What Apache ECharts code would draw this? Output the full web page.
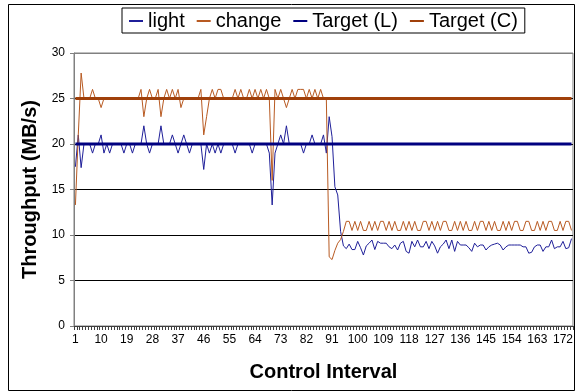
<!DOCTYPE html>
<html>
<head>
<meta charset="utf-8">
<script src="https://cdn.jsdelivr.net/npm/echarts@6/dist/echarts.min.js"></script>
<style>
  html, body { margin: 0; padding: 0; background: #fff; }
  #main { width: 576px; height: 392px; }
</style>
</head>
<body>
<div id="main"></div>
<script>
// control intervals 1..175
var intervals = Array.from({ length: 175 }, function (_, i) { return String(i + 1); });

var light = [
  17.5, 21, 17.4, 20, 20, 20, 19, 20, 20, 21,
  19, 20, 19, 20, 20, 20, 20, 19, 20, 20,
  19, 20, 20, 20, 22, 20, 19, 20, 20, 20,
  22, 20, 20, 20, 21, 20, 19, 20, 21, 20,
  19, 20, 20, 20, 20, 17.2, 20, 19, 20, 19,
  20, 19, 20, 20, 20, 20, 19, 20, 20, 20,
  20, 20, 19, 20, 20, 20, 20, 20, 19, 13.3,
  19, 20, 21, 20, 22, 20, 20, 20, 20, 20,
  19, 20, 20, 21, 20, 20, 20, 21, 19, 23,
  20.8, 15.3, 14.4, 10.4, 8.8,
  8.5, 9.0, 8.4, 8.4, 9.3, 8.6, 7.8, 8.8, 9.1, 9.45,
  8.4, 9.3, 9.1, 9.1, 9.1, 8.7, 8.5, 8.9, 8.35, 9.1,
  9.3, 8.2, 8.0, 9.3, 8.7, 9.45, 8.7, 8.7, 9.3, 8.5,
  9.3, 8.8, 8.0, 8.7, 9.0, 9.45, 8.5, 9.45, 8.2, 9.3,
  8.9, 8.9, 8.9, 8.6, 8.2, 9.1, 8.7, 8.9, 8.9, 8.35,
  8.7, 8.9, 9.0, 9.1, 8.9, 8.35, 8.7, 8.9, 8.9, 8.9,
  8.9, 8.9, 8.7, 8.7, 8.0, 8.1, 8.7, 8.9, 8.9, 8.2,
  8.7, 8.7, 9.45, 8.5, 8.7, 8.7, 9.3, 8.5, 8.6, 9.6
];

var change = [
  13.3, 21, 27.8, 25, 25, 25, 26, 25, 25, 24,
  25, 25, 25, 25, 25, 25, 25, 25, 25, 25,
  25, 25, 25, 26, 23, 25, 26, 25, 25, 26,
  23, 25, 26, 25, 26, 25, 26, 24, 25, 25,
  25, 25, 25, 25, 26, 21, 23, 25, 26, 25,
  26, 26, 25, 25, 25, 25, 26, 25, 26, 25,
  25, 26, 25, 26, 25, 26, 25, 26, 25, 16,
  26, 25, 26, 25, 24, 25, 26, 25, 26, 26,
  26, 25, 26, 25, 26, 25, 26, 25, 25, 7.6,
  7.3, 8.3, 9.1, 9.5, 10.4, 11.5,
  11.5, 10.5, 11.5, 10.5, 11.5, 10.5, 10.5, 11.5, 10.5, 11.5,
  10.5, 11.5, 11.5, 10.5, 11.5, 10.5, 11.5, 10.5, 10.5, 11.5,
  10.5, 11.5, 10.5, 11.5, 10.5, 10.5, 11.5, 11.5, 10.5, 11.5,
  10.5, 11.5, 10.5, 11.5, 11.5, 10.5, 10.5, 11.5, 10.5, 11.5,
  10.5, 11.5, 10.5, 10.5, 11.5, 10.5, 11.5, 11.5, 10.5, 11.5,
  10.5, 11.5, 10.5, 10.5, 11.5, 10.5, 11.5, 10.5, 11.5, 11.5,
  10.5, 10.5, 11.5, 11.5, 10.5, 10.5, 11.5, 10.5, 11.5, 10.5,
  11.5, 11.5, 10.5, 10.5, 11.5, 10.5, 11.5, 11.5, 10.5
];

var targetLight = 20;
var targetChange = 25;
var yTicks = [0, 5, 10, 15, 20, 25, 30];

var myChart = echarts.init(document.getElementById('main'), null, { renderer: 'canvas' });

var font = 'Liberation Sans, Arial, sans-serif';

var option = {
    animation: false,
    backgroundColor: '#fff',
    textStyle: { fontFamily: font },
    graphic: [{
        type: 'rect',
        shape: { x: 8.5, y: 4.5, width: 566, height: 386 },
        style: { fill: 'none', stroke: '#000', lineWidth: 1 },
        z: 100
    }],
    legend: {
        left: 122,
        top: 8,
        padding: [3, 7, 2, 6],
        itemWidth: 14,
        itemHeight: 10,
        itemGap: 11,
        borderColor: '#000',
        borderWidth: 1,
        borderRadius: 0,
        backgroundColor: '#fff',
        itemStyle: { opacity: 0 },
        textStyle: { fontFamily: font, fontSize: 20, color: '#000' },
        data: ['light', 'change', 'Target (L)', 'Target (C)']
    },
    grid: {
        left: 74,
        right: 3,
        top: 53,
        bottom: 66,
        show: true,
        borderColor: '#808080',
        borderWidth: 1,
        backgroundColor: '#fff'
    },
    xAxis: {
        type: 'category',
        data: intervals,
        boundaryGap: true,
        name: 'Control Interval',
        nameLocation: 'middle',
        nameGap: 36,
        nameTextStyle: { fontFamily: font, fontSize: 20, fontWeight: 'bold', color: '#000' },
        axisLine: { lineStyle: { color: '#404040', width: 1 } },
        axisTick: { show: true, interval: 0, length: 4, lineStyle: { color: '#404040' } },
        axisLabel: { interval: 8, margin: 8, fontSize: 12, color: '#000', fontFamily: font },
        splitLine: { show: false }
    },
    yAxis: {
        type: 'value',
        min: yTicks[0],
        max: yTicks[yTicks.length - 1],
        interval: 5,
        name: 'Throughput (MB/s)',
        nameLocation: 'middle',
        nameGap: 33,
        nameTextStyle: { fontFamily: font, fontSize: 20, fontWeight: 'bold', color: '#000' },
        axisLine: { show: true, lineStyle: { color: '#808080', width: 1 } },
        axisTick: { show: true, length: 4, lineStyle: { color: '#808080' } },
        axisLabel: { margin: 9, fontSize: 12, color: '#000', fontFamily: font },
        splitLine: {
            show: true,
            lineStyle: { color: ['#000', '#000', '#000', '#000', '#000', '#000', '#808080'], width: 1 }
        }
    },
    series: [
        {
            name: 'light',
            type: 'line',
            data: light,
            symbol: 'none',
            lineStyle: { color: '#1F1F99', width: 1 },
            itemStyle: { color: '#1F1F99' }
        },
        {
            name: 'change',
            type: 'line',
            data: change,
            symbol: 'none',
            lineStyle: { color: '#B85A22', width: 1 },
            itemStyle: { color: '#B85A22' }
        },
        {
            name: 'Target (L)',
            type: 'line',
            data: intervals.map(function () { return targetLight; }),
            symbol: 'none',
            lineStyle: { color: '#000080', width: 3 },
            itemStyle: { color: '#000080' }
        },
        {
            name: 'Target (C)',
            type: 'line',
            data: intervals.map(function () { return targetChange; }),
            symbol: 'none',
            lineStyle: { color: '#A0400A', width: 3 },
            itemStyle: { color: '#A0400A' }
        }
    ]
};

myChart.setOption(option);
</script>
</body>
</html>
